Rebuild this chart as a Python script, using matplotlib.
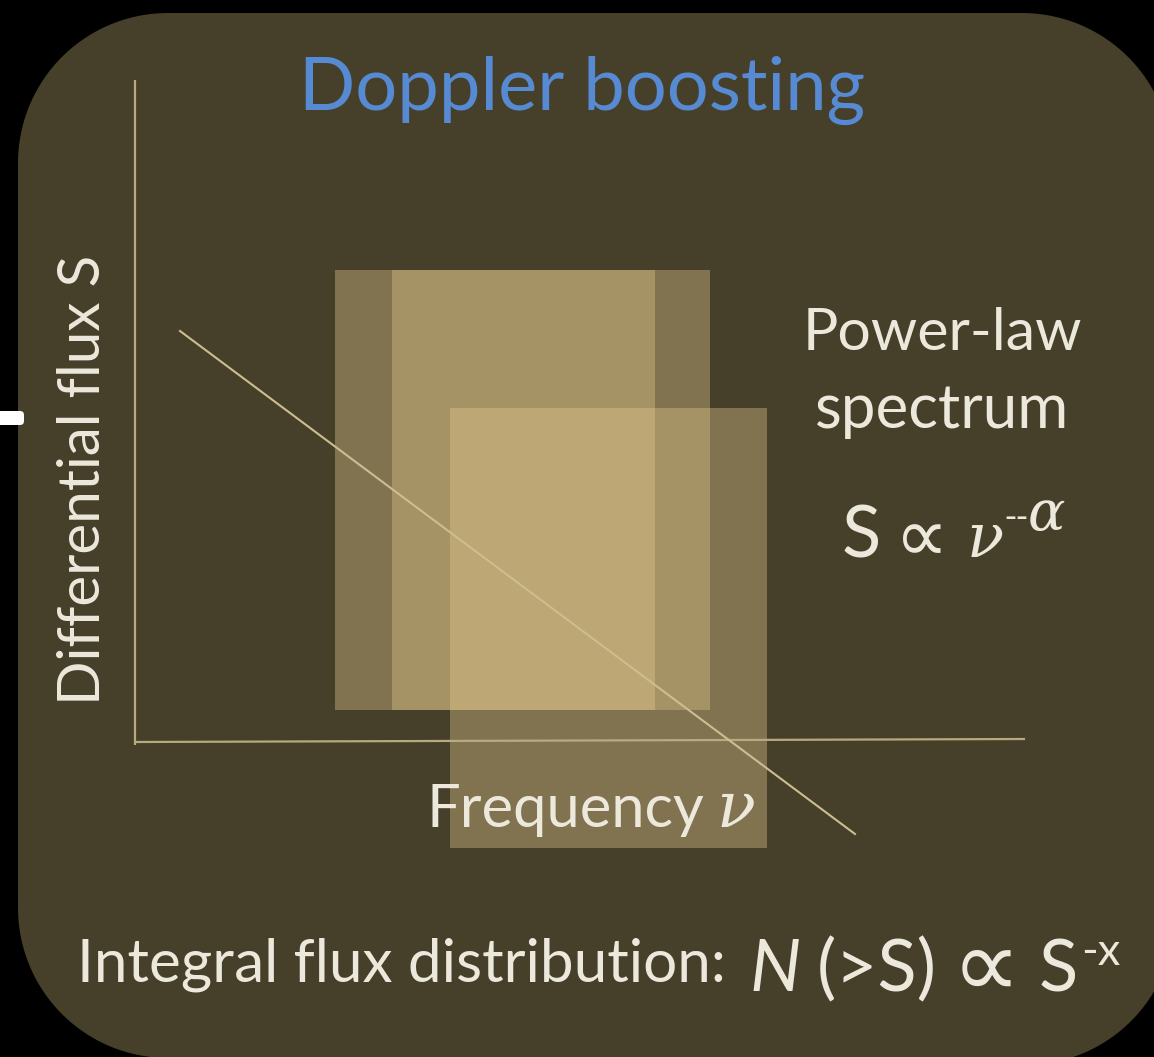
import numpy as np
import matplotlib
matplotlib.use('Agg')
import matplotlib.pyplot as plt
from matplotlib.patches import FancyBboxPatch, Rectangle, Polygon

# ---- data (canvas units of the slide) ----
rect_left = [335, 392, 450]
rect_right = [710, 655, 767]
rect_top = [270, 270, 408]
rect_bottom = [710, 710, 848]

spectrum_x = [180, 855]
spectrum_y = [331, 834]

axis_v_x = [135, 135]
axis_v_y = [80, 745]
axis_h_x = [135, 1025]
axis_h_y = [742, 739]

title = "Doppler boosting"
ylabel = "Differential flux S"
xlabel = "Frequency"
side_lines = ["Power-law", "spectrum"]
bottom_text = "Integral flux distribution:"

W, H = 1154, 1057
TXT = '#ece8dc'
PANEL = '#463f2a'
LINE = '#b8aa80'
RECT = '#e2c98e'

fig = plt.figure(figsize=(W / 100, H / 100), dpi=100, facecolor='black')
ax = fig.add_axes([0, 0, 1, 1])
ax.set_xlim(0, W)
ax.set_ylim(H, 0)
ax.axis('off')


def arc(cx, cy, r, a0, a1, n=40):
    a = np.radians(np.linspace(a0, a1, n))
    return np.column_stack([cx + r * np.cos(a), cy + r * np.sin(a)])


# rounded slide panel (y axis points down)
R = 150
outline = np.vstack([
    arc(168, 163, R, 180, 270),      # top-left
    arc(1022, 163, R, 270, 360),     # top-right
    arc(1025, 915, R, 0, 90),        # bottom-right
    arc(168, 908, R, 90, 180),       # bottom-left
])
ax.add_patch(Polygon(outline, closed=True, fc=PANEL, ec='none', zorder=0))

mark = FancyBboxPatch((-10, 411), 34, 14, boxstyle='round,pad=0,rounding_size=4',
                      fc='white', ec='none', zorder=1)
ax.add_patch(mark)

for l, r, t, b in zip(rect_left, rect_right, rect_top, rect_bottom):
    ax.add_patch(Rectangle((l, t), r - l, b - t, fc=RECT, ec='none', alpha=0.38, zorder=2))

ax.plot(axis_v_x, axis_v_y, color=LINE, lw=1.6, solid_capstyle='butt', zorder=3)
ax.plot(axis_h_x, axis_h_y, color=LINE, lw=1.6, solid_capstyle='butt', zorder=3)
ax.plot(spectrum_x, spectrum_y, color='#cdbd90', lw=1.5, zorder=3)

renderer = fig.canvas.get_renderer()


def fit_text(x, y, s, width, **kw):
    t = ax.text(x, y, s, fontsize=40, va='baseline', ha='left', **kw)
    bb = t.get_window_extent(renderer)
    t.set_fontsize(40 * width / bb.width)
    return t


def pieces(x, y, parts):
    """parts: (text, size, family, style, raise_px, gap_before)"""
    for s, size, fam, style, rise, gap in parts:
        x += gap
        t = ax.text(x, y - rise, s, fontsize=size, family=fam, style=style,
                    color=TXT, va='baseline', ha='left', zorder=5)
        bb = t.get_window_extent(renderer)
        x = bb.x1
    return x


SANS = ['Lato', 'DejaVu Sans']

# title
fit_text(299, 110, title, 566, color='#568ad2', family=SANS, zorder=5)

# y label
t = ax.text(100, 705, ylabel, fontsize=40, rotation=90, rotation_mode='anchor',
            ha='left', va='baseline', color=TXT, family=SANS, zorder=5)
bb = t.get_window_extent(renderer)
t.set_fontsize(40 * 450 / bb.height)

# x label
xl = fit_text(426, 827, xlabel, 277, color=TXT, family=SANS, zorder=5)
bb = xl.get_window_extent(renderer)
ax.text(bb.x1 + 13, 827, "ν", fontsize=46, family='DejaVu Serif', style='italic',
        color=TXT, va='baseline', ha='left', zorder=5)

# side text
fit_text(803, 350, side_lines[0], 280, color=TXT, family=SANS, zorder=5)
fit_text(815, 428, side_lines[1], 254, color=TXT, family=SANS, zorder=5)

pieces(842, 557, [
    ("S", 52, ['Lato'], 'normal', 0, 0),
    ("∝", 54, ['DejaVu Sans'], 'normal', -4, 14),
    ("ν", 44, ['DejaVu Serif'], 'italic', 0, 18),
    ("--", 24, ['DejaVu Sans'], 'normal', 30, 0),
    ("α", 40, ['DejaVu Serif'], 'italic', 27, 0),
])

# bottom line
bt = fit_text(77, 982, bottom_text, 650, color=TXT, family=SANS, zorder=5)
bs = bt.get_fontsize()
x0 = bt.get_window_extent(renderer).x1
pieces(x0, 991, [
    ("N", bs * 1.2, ['Lato'], 'italic', 0, 24),
    ("(>S)", bs * 1.2, ['Lato'], 'normal', 0, 16),
    ("∝", bs * 1.6, ['DejaVu Sans'], 'normal', -6, 14),
    ("S", bs * 1.2, ['Lato'], 'normal', 0, 18),
    ("-x", bs * 0.75, ['Lato'], 'normal', 26, 4),
])

fig.savefig('out.png', dpi=100, facecolor='black')
